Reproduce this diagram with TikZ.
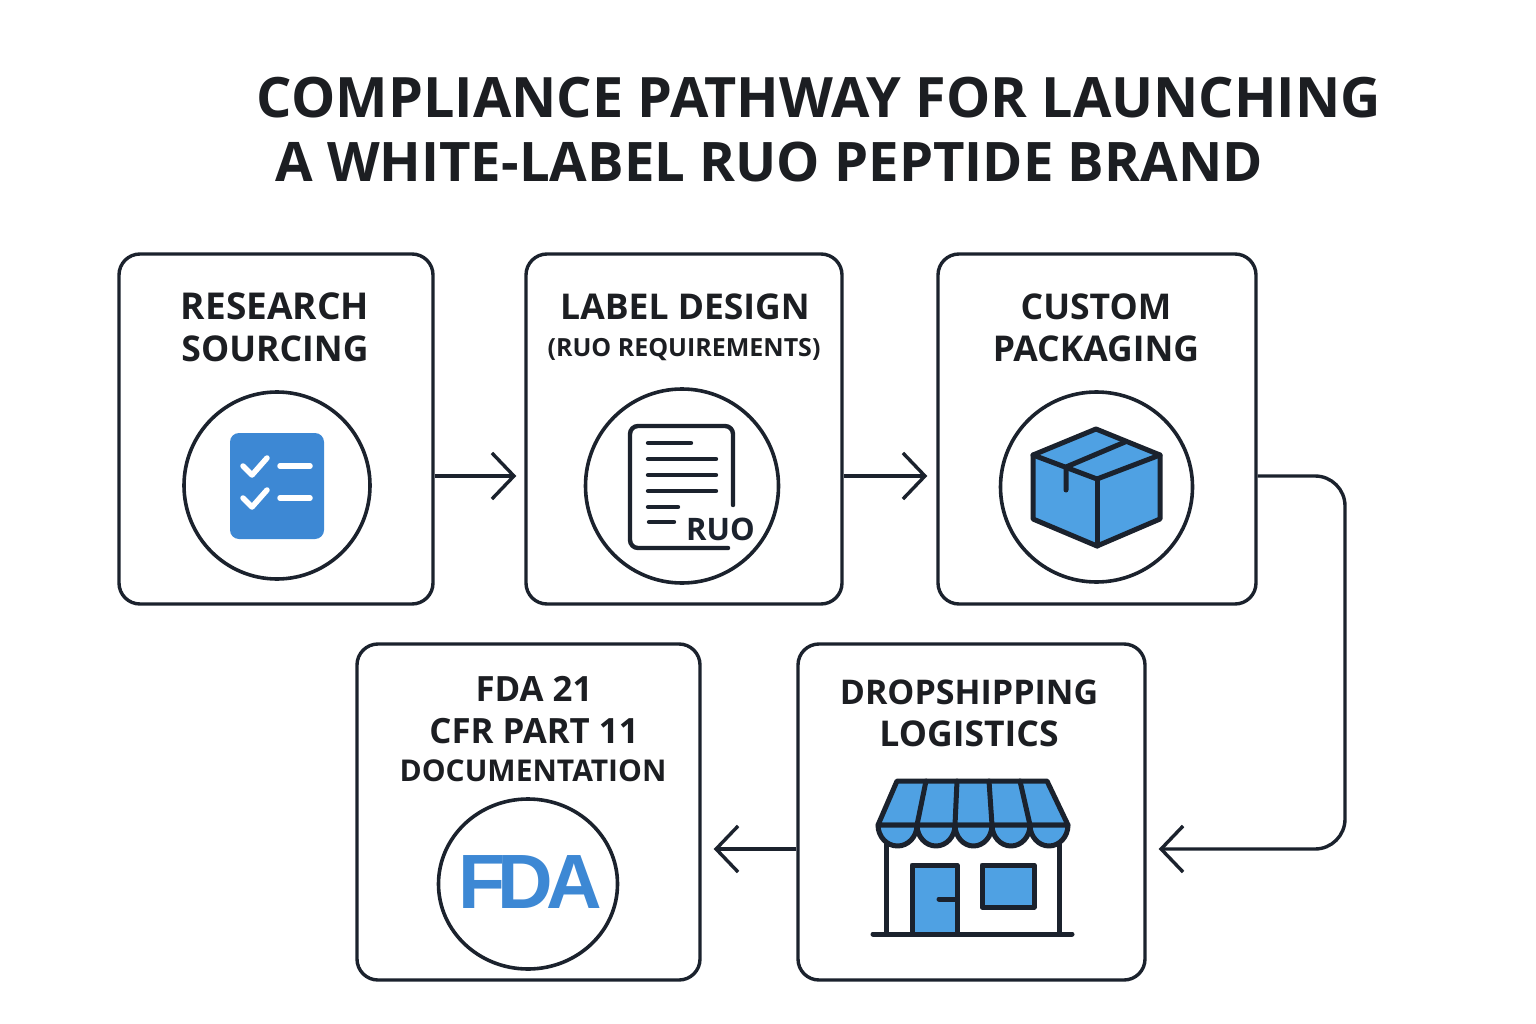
\documentclass[tikz,border=0pt]{standalone}
\usepackage{fontspec}
\setmainfont{Liberation Sans}
\newfontfamily\labf{Open Sans}
\usetikzlibrary{arrows.meta,calc,shapes.geometric}
\definecolor{ink}{HTML}{1B222D}
\definecolor{titleink}{HTML}{1C1E22}
\definecolor{blueA}{HTML}{3D88D4}
\definecolor{blueB}{HTML}{4FA1E3}
\tikzset{
 card/.style={draw=ink,line width=3.4pt,rounded corners=21pt,fill=white,inner sep=0pt},
 ring/.style={draw=ink,line width=3.6pt,ellipse,fill=white,inner sep=0pt},
 ttl/.style={anchor=base,text=titleink,inner sep=0pt,font=\fontsize{55.7}{56}\labf\bfseries},
 ttlB/.style={anchor=base,text=titleink,inner sep=0pt,font=\fontsize{54.5}{56}\labf\bfseries},
 lbl/.style={anchor=base,text=titleink,inner sep=0pt,font=\fontsize{35.5}{36}\labf\bfseries},
 lblR/.style={anchor=base,text=titleink,inner sep=0pt,font=\fontsize{37}{37}\labf\bfseries},
 lblF/.style={anchor=base,text=titleink,inner sep=0pt,font=\fontsize{34.8}{36}\labf\bfseries},
 lblS/.style={anchor=base,text=titleink,inner sep=0pt,font=\fontsize{25}{25}\labf\bfseries},
 lblM/.style={anchor=base,text=titleink,inner sep=0pt,font=\fontsize{30}{30}\labf\bfseries},
 lblD/.style={anchor=base,text=titleink,inner sep=0pt,font=\fontsize{34}{34}\labf\bfseries},
 flow/.style={draw=ink,line width=3.4pt,-{Straight Barb[length=22pt,width=46pt,line width=3.4pt]}},
 icon/.style={draw=ink,line width=5pt,line join=round,line cap=round,fill=blueB},
 thin/.style={draw=ink,line width=4.4pt,line cap=round,line join=round},
 shop/.style={draw=ink,line width=5pt,line cap=round,line join=round},
}
\begin{document}
\begin{tikzpicture}[x=1pt,y=-1pt]
\useasboundingbox (0,0) rectangle (1536,1024);
\fill[white] (0,0) rectangle (1536,1024);
\node[ttl] (t1) at (819,117.5) {COMPLIANCE PATHWAY FOR LAUNCHING};
\node[ttlB] (t2) at (769,181.5) {A WHITE-LABEL RUO PEPTIDE BRAND};
% cards
\node[card,minimum width=314pt,minimum height=350pt] (b1) at (276,429) {};
\node[card,minimum width=316pt,minimum height=350pt] (b2) at (684,429) {};
\node[card,minimum width=318pt,minimum height=350pt] (b3) at (1097,429) {};
\node[card,minimum width=343pt,minimum height=336pt] (b4) at (528.5,812) {};
\node[card,minimum width=347pt,minimum height=336pt] (b5) at (971.5,812) {};
% labels
\node[lblR] (l1a) at (275,319.5) {RESEARCH};
\node[lbl] (l1b) at (275,361.5) {SOURCING};
\node[lbl] (l2a) at (685,319.5) {LABEL DESIGN};
\node[lblS] (l2b) at (684,356) {(RUO REQUIREMENTS)};
\node[lbl] (l3a) at (1096,319.5) {CUSTOM};
\node[lbl] (l3b) at (1096,361.5) {PACKAGING};
\node[lblF] (l4a) at (534,701.5) {FDA 21};
\node[lblF] (l4b) at (534,743.5) {CFR PART 11};
\node[lblM] (l4c) at (533,781) {DOCUMENTATION};
\node[lblD] (l5a) at (969,704.5) {DROPSHIPPING};
\node[lbl] (l5b) at (969,746.5) {LOGISTICS};
% rings
\node[ring,minimum width=186pt,minimum height=187pt] (c1) at (277,485.5) {};
\node[ring,minimum width=193pt,minimum height=194pt] (c2) at (682,486) {};
\node[ring,minimum width=192pt,minimum height=190pt] (c3) at (1096.5,487) {};
\node[ring,minimum width=179pt,minimum height=170pt] (c4) at (528,884) {};
% connectors
\coordinate (yA) at (0,476);
\coordinate (yB) at (0,849);
\coordinate (xR) at (1345,0);
\draw[flow,shorten >=8pt] (b1.east |- yA) -- (b2.west |- yA);
\draw[flow,shorten >=9pt] (b2.east |- yA) -- (b3.west |- yA);
\draw[flow,shorten >=12pt,rounded corners=30pt] (b3.east |- yA) -- (xR |- yA) -- (xR |- yB) -- (b5.east |- yB);
\draw[flow,shorten >=12pt] (b5.west |- yB) -- (b4.east |- yB);
% checklist icon
\fill[blueA] (230,433) [rounded corners=9pt] rectangle (324,539);
\begin{scope}[draw=white,line width=5.5pt,line cap=round,line join=round]
\draw (243,466) -- (252,475) -- (267,458);
\draw (243,498) -- (252,507) -- (267,490);
\draw (280,466) -- (310,466);
\draw (280,498) -- (310,498);
\end{scope}
% document icon
\draw[thin,rounded corners=8pt] (733,505) -- (733,426) -- (630,426) -- (630,548) -- (728,548);
\draw[thin] (648,443) -- (691,443);
\draw[thin] (648,459) -- (716,459);
\draw[thin] (648,475) -- (716,475);
\draw[thin] (648,491) -- (716,491);
\draw[thin] (648,507) -- (678,507);
\draw[thin] (649,522) -- (674,522);
\node[anchor=base,text=ink,inner sep=0pt,font=\fontsize{31}{31}\labf\bfseries] (ruo) at (720.5,540) {RUO};
% box icon
\draw[icon] (1096,429) -- (1160,455) -- (1160,519) -- (1097,546) -- (1033,519) -- (1033,455) -- cycle;
\draw[icon,fill=none] (1033,455) -- (1097,479) -- (1160,455);
\draw[icon,fill=none] (1097,479) -- (1097,546);
\draw[icon,fill=none] (1125,442) -- (1066,467) -- (1066,490);
% shop icon
\draw[shop] (886,840) -- (886,934) (1059,840) -- (1059,934);
\draw[shop,fill=blueB,line cap=butt] (912,934) -- (912,865) -- (957,865) -- (957,934);
\draw[shop] (939,899) -- (957,899);
\draw[shop,fill=blueB] (982,865) rectangle (1034,907);
\draw[shop] (873,934) -- (1072,934);
\draw[shop,fill=blueB] (897,781) -- (1047,781) -- (1068,825) -- (878,825) -- cycle;
\draw[shop] (926,781) -- (917,825) (957,781) -- (955,825) (989,781) -- (992,825) (1020,781) -- (1030,825);
\draw[shop,fill=blueB] (878,825) arc[start angle=180,end angle=0,x radius=19.5,y radius=21] arc[start angle=180,end angle=0,x radius=19,y radius=21] arc[start angle=180,end angle=0,x radius=18.5,y radius=21] arc[start angle=180,end angle=0,x radius=19,y radius=21] arc[start angle=180,end angle=0,x radius=19,y radius=21] -- cycle;
% FDA
\node[anchor=base,text=blueA,inner sep=0pt,font=\fontsize{77}{77}\bfseries] (fda) at (530,908) {F\kern-7.5pt D\kern-7.5pt A};
\end{tikzpicture}
\end{document}
